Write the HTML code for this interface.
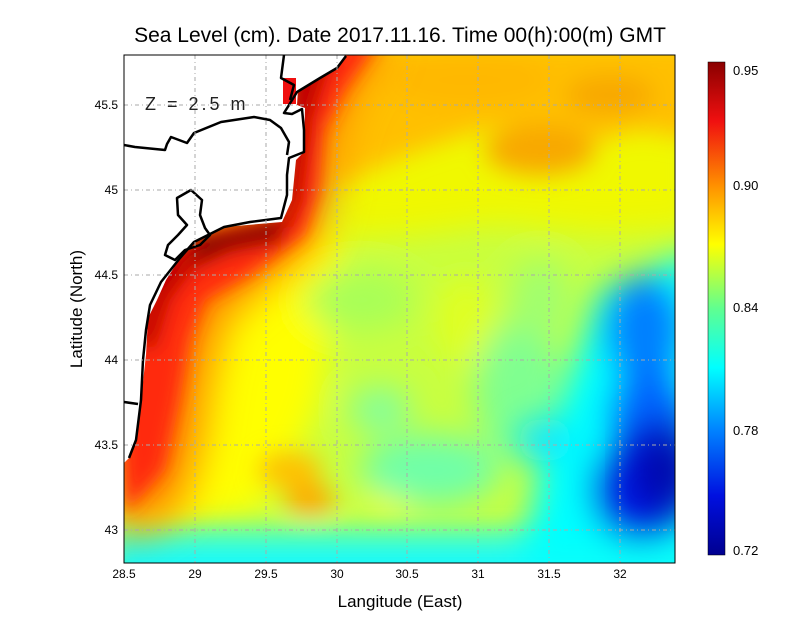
<!DOCTYPE html>
<html><head><meta charset="utf-8"><style>
body{margin:0;background:#fff;width:800px;height:618px;overflow:hidden;font-family:"Liberation Sans",sans-serif}
</style></head><body>
<svg width="800" height="618" viewBox="0 0 800 618" xmlns="http://www.w3.org/2000/svg">
<defs>
<filter id="b" x="-50%" y="-50%" width="200%" height="200%"><feGaussianBlur stdDeviation="16"/></filter>
<filter id="b3" x="-50%" y="-50%" width="200%" height="200%"><feGaussianBlur stdDeviation="12"/></filter>
<filter id="b2" x="-50%" y="-50%" width="200%" height="200%"><feGaussianBlur stdDeviation="9"/></filter>
<filter id="b4" x="-50%" y="-50%" width="200%" height="200%"><feGaussianBlur stdDeviation="20"/></filter>
<clipPath id="c"><rect x="124" y="55" width="551" height="508"/></clipPath>
<linearGradient id="cb" x1="0" y1="0" x2="0" y2="1">
<stop offset="0" stop-color="#8a0000"/>
<stop offset="0.12" stop-color="#f01010"/>
<stop offset="0.25" stop-color="#ff9000"/>
<stop offset="0.37" stop-color="#ffff00"/>
<stop offset="0.5" stop-color="#60ff90"/>
<stop offset="0.62" stop-color="#00ffff"/>
<stop offset="0.75" stop-color="#0080ff"/>
<stop offset="0.88" stop-color="#0010e0"/>
<stop offset="1" stop-color="#000090"/>
</linearGradient>
</defs>
<g clip-path="url(#c)">
<rect x="124" y="55" width="551" height="508" fill="#c8ff40"/>
<g filter="url(#b)">
<polygon points="130,230 300,200 340,240 330,330 320,400 300,450 260,510 180,525 130,520" fill="#ffff00"/>
<polygon points="300,40 700,40 700,230 600,235 500,225 420,235 340,240" fill="#f0f800"/>
<ellipse cx="465" cy="320" rx="30" ry="45" fill="#e0ff20"/>
<ellipse cx="390" cy="500" rx="22" ry="22" fill="#f8ff00"/>
<ellipse cx="360" cy="300" rx="55" ry="30" fill="#a8ff58"/>
<ellipse cx="380" cy="410" rx="30" ry="22" fill="#80ffa0"/>
<ellipse cx="430" cy="470" rx="70" ry="35" fill="#70ffa8"/>
<ellipse cx="520" cy="390" rx="45" ry="70" fill="#80ff90"/>
<ellipse cx="540" cy="300" rx="30" ry="40" fill="#a0ff70"/>
</g>
<g filter="url(#b3)">
<polygon points="320,40 700,40 700,140 640,130 600,140 540,125 480,130 420,150 370,170 330,190" fill="#ffc000"/>
<ellipse cx="540" cy="150" rx="55" ry="25" fill="#f8a800"/>
<ellipse cx="610" cy="95" rx="45" ry="20" fill="#f8a800"/>
<ellipse cx="470" cy="80" rx="80" ry="25" fill="#ffb800"/>
<ellipse cx="290" cy="470" rx="32" ry="18" fill="#ffc000"/>
<ellipse cx="310" cy="500" rx="25" ry="15" fill="#ffa800"/>
<rect x="110" y="528" width="600" height="60" fill="#40ffc8"/>
<rect x="110" y="552" width="600" height="30" fill="#00f8ff"/>
</g>
<g filter="url(#b)">
<polygon points="600,290 700,250 700,570 520,570 540,470 560,400" fill="#00ffff"/>
<ellipse cx="545" cy="440" rx="28" ry="22" fill="#10e8ff"/>
<ellipse cx="645" cy="330" rx="40" ry="55" fill="#0080ff"/>
<ellipse cx="650" cy="420" rx="42" ry="55" fill="#0068ff"/>
<ellipse cx="640" cy="490" rx="50" ry="52" fill="#0020e8"/>
</g>
<g filter="url(#b4)">
<ellipse cx="665" cy="470" rx="30" ry="45" fill="#0000a8"/>
</g>
<g filter="url(#b4)">
<polygon points="300,40 390,40 350,100 335,150 330,200 315,245 260,290 225,320 210,380 200,450 180,510 124,540 100,300 200,230 290,210 295,100" fill="#ff8a00"/>
</g>
<g filter="url(#b2)">
<polygon points="330,40 380,40 345,90 325,130 320,190 305,235 250,275 205,300 190,340 180,400 165,470 125,515 110,300 200,230 290,210 295,100" fill="#ff2a10"/>
<polygon points="290,60 335,50 312,120 302,200 292,226 250,238 205,255 170,300 155,350 135,345 150,270 200,235 280,215" fill="#c00000"/>
<polygon points="195,235 285,220 280,242 230,252 195,268" fill="#880000"/>
</g>
<path d="M124,55 L346,55 L336,68 L310,85 L298,90 L297,105 L305,108 L304,152 L296,160 L292,200 L282,222 L224,227 L196,240 L180,258 L166,280 L157,300 L148,318 L146,355 L141,400 L136,440 L129,458 L124,463 Z" fill="#fff"/>
<rect x="283" y="78" width="13" height="26" fill="#f01010"/>
<g stroke="#000" stroke-width="2.5" fill="none" stroke-linejoin="round">
<path d="M346,56 L337,68 L320,78 L297,92 L289,105 L284,113 L292,114 L302,109 L304,130 L304,152 L289,158 L287,175 L287,195 L281,218 L250,222 L224,227 L194,242 L180,258 L161,282 L150,305 L146,330 L143,360 L141,400 L136,440 L129,458"/>
<path d="M124,145 L135,147 L165,150 L167,144 L171,137 L187,143 L194,133 L221,122 L254,117 L270,120 L281,128 L289,142 L287,155"/>
<path d="M284,55 L281,78 L294,85 L290,100"/>
<path d="M124,402 L138,404"/>
<path d="M191,190 L177,198 L178,215 L187,225 L178,235 L168,245 L165,255 L175,260 L185,250 L200,245 L210,235 L205,228 L200,215 L202,200 Z"/>
</g>
<g stroke="#aaa" stroke-width="1" stroke-dasharray="4,3,1,3">
<line x1="195" y1="55" x2="195" y2="563"/><line x1="266" y1="55" x2="266" y2="563"/><line x1="337" y1="55" x2="337" y2="563"/><line x1="407" y1="55" x2="407" y2="563"/><line x1="478" y1="55" x2="478" y2="563"/><line x1="549" y1="55" x2="549" y2="563"/><line x1="620" y1="55" x2="620" y2="563"/>
<line x1="124" y1="530" x2="675" y2="530"/><line x1="124" y1="445" x2="675" y2="445"/><line x1="124" y1="360" x2="675" y2="360"/><line x1="124" y1="275" x2="675" y2="275"/><line x1="124" y1="190" x2="675" y2="190"/><line x1="124" y1="105" x2="675" y2="105"/>
</g>
</g>
<rect x="124" y="55" width="551" height="508" fill="none" stroke="#000" stroke-width="1"/>
<text x="145" y="110" font-size="18" fill="#222" letter-spacing="3">Z = 2.5 m</text>
<g font-size="12" fill="#000" text-anchor="middle">
<text x="124" y="578">28.5</text><text x="195" y="578">29</text><text x="266" y="578">29.5</text><text x="337" y="578">30</text><text x="407" y="578">30.5</text><text x="478" y="578">31</text><text x="549" y="578">31.5</text><text x="620" y="578">32</text>
</g>
<g font-size="12" fill="#000" text-anchor="end">
<text x="118" y="534">43</text><text x="118" y="449">43.5</text><text x="118" y="364">44</text><text x="118" y="279">44.5</text><text x="118" y="194">45</text><text x="118" y="109">45.5</text>
</g>
<text x="400" y="607" font-size="17" text-anchor="middle">Langitude (East)</text>
<text transform="translate(82,309) rotate(-90)" font-size="17" text-anchor="middle">Latitude (North)</text>
<text x="400" y="42" font-size="21" text-anchor="middle">Sea Level (cm). Date 2017.11.16. Time 00(h):00(m) GMT</text>
<rect x="708" y="62" width="17" height="493" fill="url(#cb)" stroke="#000" stroke-width="0.5"/>
<g font-size="13" fill="#000">
<text x="733" y="75">0.95</text><text x="733" y="190">0.90</text><text x="733" y="312">0.84</text><text x="733" y="435">0.78</text><text x="733" y="555">0.72</text>
</g>
</svg>
</body></html>
